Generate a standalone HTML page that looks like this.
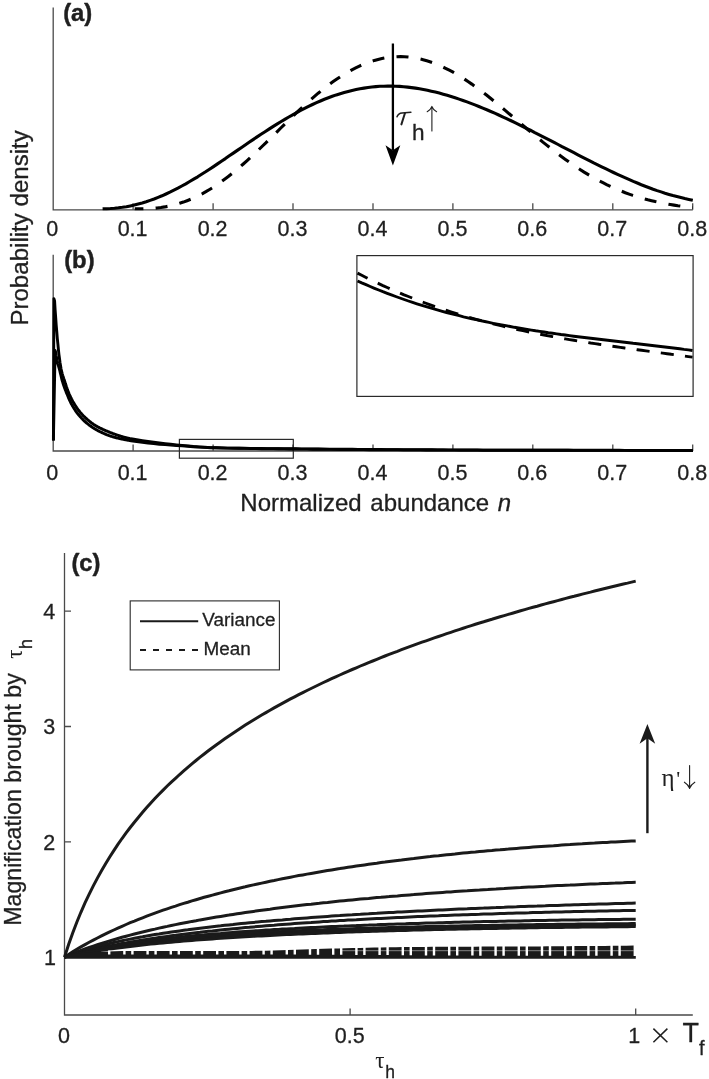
<!DOCTYPE html>
<html><head><meta charset="utf-8"><title>Figure</title>
<style>
html,body{margin:0;padding:0;background:#fff;}
body{width:709px;height:1079px;overflow:hidden;font-family:"Liberation Sans",sans-serif;}
svg{display:block;will-change:transform;}
</style></head>
<body>
<svg width="709" height="1079" viewBox="0 0 709 1079">
<rect x="0" y="0" width="709" height="1079" fill="#ffffff"/>
<g fill="none" stroke="#4a4a4a" stroke-width="1.3">
<path d="M53.2,7.6 V209.8 H692.8"/>
<path d="M133.1,209.8 v-6.5 M213.1,209.8 v-6.5 M293.0,209.8 v-6.5 M373.0,209.8 v-6.5 M452.9,209.8 v-6.5 M532.8,209.8 v-6.5 M612.8,209.8 v-6.5 M692.7,209.8 v-6.5 "/>
</g>
<path d="M102.6,208.8 L106.6,208.7 L110.5,208.5 L114.5,208.2 L118.4,207.8 L122.4,207.3 L126.4,206.7 L130.3,205.9 L134.3,205.1 L138.2,204.1 L142.2,203.0 L146.2,201.8 L150.1,200.4 L154.1,199.0 L158.1,197.4 L162.0,195.8 L166.0,194.0 L169.9,192.2 L173.9,190.2 L177.9,188.2 L181.8,186.0 L185.8,183.8 L189.7,181.5 L193.7,179.2 L197.7,176.8 L201.6,174.3 L205.6,171.8 L209.5,169.2 L213.5,166.6 L217.5,163.9 L221.4,161.2 L225.4,158.6 L229.3,155.8 L233.3,153.1 L237.3,150.4 L241.2,147.7 L245.2,145.0 L249.1,142.3 L253.1,139.6 L257.1,136.9 L261.0,134.3 L265.0,131.7 L269.0,129.1 L272.9,126.6 L276.9,124.1 L280.8,121.7 L284.8,119.3 L288.8,117.0 L292.7,114.8 L296.7,112.6 L300.6,110.5 L304.6,108.4 L308.6,106.4 L312.5,104.5 L316.5,102.7 L320.4,101.0 L324.4,99.3 L328.4,97.8 L332.3,96.3 L336.3,94.9 L340.2,93.7 L344.2,92.5 L348.2,91.4 L352.1,90.4 L356.1,89.5 L360.0,88.7 L364.0,88.1 L368.0,87.5 L371.9,87.0 L375.9,86.6 L379.9,86.3 L383.8,86.2 L387.8,86.1 L391.7,86.1 L395.7,86.2 L399.7,86.4 L403.6,86.7 L407.6,87.1 L411.5,87.6 L415.5,88.1 L419.5,88.8 L423.4,89.5 L427.4,90.3 L431.3,91.2 L435.3,92.1 L439.3,93.1 L443.2,94.2 L447.2,95.3 L451.1,96.5 L455.1,97.8 L459.1,99.1 L463.0,100.5 L467.0,101.9 L470.9,103.4 L474.9,104.9 L478.9,106.5 L482.8,108.1 L486.8,109.8 L490.8,111.5 L494.7,113.2 L498.7,115.0 L502.6,116.8 L506.6,118.7 L510.6,120.5 L514.5,122.4 L518.5,124.3 L522.4,126.3 L526.4,128.3 L530.4,130.2 L534.3,132.3 L538.3,134.3 L542.2,136.3 L546.2,138.3 L550.2,140.4 L554.1,142.4 L558.1,144.5 L562.0,146.6 L566.0,148.6 L570.0,150.7 L573.9,152.7 L577.9,154.8 L581.8,156.8 L585.8,158.8 L589.8,160.9 L593.7,162.9 L597.7,164.8 L601.7,166.8 L605.6,168.7 L609.6,170.6 L613.5,172.5 L617.5,174.4 L621.5,176.2 L625.4,177.9 L629.4,179.7 L633.3,181.4 L637.3,183.0 L641.3,184.7 L645.2,186.2 L649.2,187.7 L653.1,189.2 L657.1,190.6 L661.1,191.9 L665.0,193.2 L669.0,194.4 L672.9,195.6 L676.9,196.6 L680.9,197.6 L684.8,198.6 L688.8,199.4 L692.8,200.2" fill="none" stroke="#000" stroke-width="3.1" stroke-linejoin="round"/>
<path d="M134.7,208.7 L138.4,208.8 L142.2,208.8 L145.9,208.7 L149.7,208.6 L153.4,208.3 L157.2,208.0 L160.9,207.5 L164.7,206.9 L168.4,206.2 L172.2,205.4 L175.9,204.4 L179.6,203.3 L183.4,202.1 L187.1,200.7 L190.9,199.2 L194.6,197.5 L198.4,195.7 L202.1,193.8 L205.9,191.7 L209.6,189.5 L213.4,187.2 L217.1,184.7 L220.8,182.1 L224.6,179.3 L228.3,176.5 L232.1,173.5 L235.8,170.5 L239.6,167.3 L243.3,164.0 L247.1,160.6 L250.8,157.2 L254.5,153.7 L258.3,150.1 L262.0,146.5 L265.8,142.9 L269.5,139.2 L273.3,135.5 L277.0,131.8 L280.8,128.0 L284.5,124.3 L288.3,120.7 L292.0,117.0 L295.7,113.4 L299.5,109.9 L303.2,106.4 L307.0,103.0 L310.7,99.7 L314.5,96.4 L318.2,93.2 L322.0,90.2 L325.7,87.2 L329.5,84.3 L333.2,81.6 L336.9,79.0 L340.7,76.5 L344.4,74.1 L348.2,71.9 L351.9,69.8 L355.7,67.9 L359.4,66.1 L363.2,64.4 L366.9,62.9 L370.7,61.6 L374.4,60.4 L378.1,59.4 L381.9,58.5 L385.6,57.8 L389.4,57.3 L393.1,56.9 L396.9,56.7 L400.6,56.6 L404.4,56.7 L408.1,57.0 L411.9,57.4 L415.6,58.0 L419.3,58.8 L423.1,59.7 L426.8,60.8 L430.6,62.0 L434.3,63.3 L438.1,64.8 L441.8,66.5 L445.6,68.3 L449.3,70.2 L453.1,72.2 L456.8,74.4 L460.5,76.6 L464.3,79.0 L468.0,81.5 L471.8,84.1 L475.5,86.8 L479.3,89.5 L483.0,92.4 L486.8,95.3 L490.5,98.3 L494.2,101.3 L498.0,104.4 L501.7,107.5 L505.5,110.6 L509.2,113.8 L513.0,116.9 L516.7,120.1 L520.5,123.3 L524.2,126.5 L528.0,129.7 L531.7,132.8 L535.4,135.9 L539.2,139.0 L542.9,142.1 L546.7,145.1 L550.4,148.1 L554.2,151.0 L557.9,153.9 L561.7,156.7 L565.4,159.4 L569.2,162.1 L572.9,164.7 L576.6,167.2 L580.4,169.7 L584.1,172.1 L587.9,174.4 L591.6,176.6 L595.4,178.7 L599.1,180.8 L602.9,182.7 L606.6,184.6 L610.4,186.4 L614.1,188.1 L617.8,189.7 L621.6,191.2 L625.3,192.7 L629.1,194.1 L632.8,195.4 L636.6,196.6 L640.3,197.7 L644.1,198.8 L647.8,199.8 L651.6,200.7 L655.3,201.6 L659.0,202.4 L662.8,203.1 L666.5,203.8 L670.3,204.5 L674.0,205.1 L677.8,205.7 L681.5,206.2 L685.3,206.7 L689.0,207.3 L692.8,207.8" fill="none" stroke="#000" stroke-width="3.1" stroke-dasharray="12.0 12.25" stroke-dashoffset="3.3"/>
<path d="M392.9,43.5 V150" fill="none" stroke="#000" stroke-width="2.3"/>
<path d="M392.9,165.5 L385.5,145.3 L392.9,150.3 L400.3,145.3 Z" fill="#000"/>
<g fill="none" stroke="#4a4a4a" stroke-width="1.3">
<path d="M53.2,254.7 V451.0 H692.8"/>
<path d="M133.1,451.0 v-6.5 M213.1,451.0 v-6.5 M293.0,451.0 v-6.5 M373.0,451.0 v-6.5 M452.9,451.0 v-6.5 M532.8,451.0 v-6.5 M612.8,451.0 v-6.5 M692.7,451.0 v-6.5 "/>
</g>
<g fill="none" stroke="#2a2a2a" stroke-width="1.2">
<rect x="356.9" y="255.6" width="336.2" height="140.8"/>
<rect x="179.4" y="439.4" width="113.9" height="18.8"/>
</g>
<path d="M53.4,440.5 L53.9,298.6 L54.6,301.0 L55.1,309.5 L55.7,317.5 L56.2,325.0 L56.8,331.9 L57.3,338.3 L57.9,344.2 L58.4,349.5 L58.9,354.1 L59.5,358.5 L60.0,362.5 L60.6,366.1 L61.1,369.1 L61.7,371.5 L62.2,373.6 L62.7,375.4 L63.3,377.1 L63.8,378.7 L64.4,380.3 L64.9,381.9 L65.4,383.6 L66.0,385.3 L66.5,387.0 L67.1,388.6 L67.6,390.1 L68.2,391.5 L68.7,392.8 L69.2,394.1 L69.8,395.3 L70.3,396.5 L70.9,397.6 L71.4,398.7 L72.0,399.8 L72.5,400.8 L73.0,401.8 L73.6,402.7 L74.1,403.6 L74.7,404.5 L75.2,405.3 L75.8,406.2 L76.3,407.0 L76.8,407.8 L77.4,408.6 L77.9,409.3 L78.5,410.1 L79.0,410.8 L79.6,411.5 L80.1,412.2 L80.6,412.8 L81.2,413.4 L81.7,414.1 L82.3,414.6 L82.8,415.2 L83.3,415.8 L83.9,416.3 L84.4,416.8 L85.0,417.4 L85.5,417.9 L86.1,418.4 L86.6,418.9 L87.1,419.4 L87.7,419.8 L88.2,420.3 L88.8,420.7 L89.3,421.2 L89.9,421.6 L90.4,422.0 L90.9,422.5 L91.5,422.9 L92.0,423.3 L92.6,423.6 L93.1,424.0 L93.7,424.4 L94.2,424.7 L94.7,425.1 L95.3,425.4 L95.8,425.7 L96.4,426.1 L96.9,426.4 L97.5,426.7 L98.0,427.0 L98.5,427.3 L99.1,427.5 L99.6,427.8 L100.2,428.1 L100.7,428.3 L101.3,428.6 L101.8,428.9 L102.3,429.1 L102.9,429.4 L103.4,429.6 L104.0,429.8 L104.5,430.1 L105.0,430.3 L105.6,430.6 L106.1,430.8 L106.7,431.0 L107.2,431.2 L107.8,431.5 L108.3,431.7 L108.8,431.9 L109.4,432.2 L109.9,432.4 L110.5,432.6 L111.0,432.8 L111.6,433.0 L112.1,433.2 L112.6,433.4 L113.2,433.6 L113.7,433.8 L114.3,434.0 L114.8,434.2 L115.4,434.4 L115.9,434.6 L116.4,434.8 L117.0,435.0 L117.5,435.1 L118.1,435.3 L118.6,435.5 L119.2,435.7 L119.7,435.8 L120.2,436.0 L120.8,436.2 L121.3,436.3 L121.9,436.5 L122.4,436.7 L122.9,436.8 L123.5,437.0 L124.0,437.1 L124.6,437.3 L125.1,437.4 L125.7,437.6 L126.2,437.7 L126.7,437.9 L127.3,438.0 L127.8,438.1 L128.4,438.2 L128.9,438.4 L129.5,438.5 L130.0,438.6 L131.0,438.8 L136.7,439.8 L142.4,440.7 L148.0,441.5 L153.7,442.2 L159.4,443.0 L165.1,443.7 L170.7,444.3 L176.4,444.9 L182.1,445.4 L187.8,445.9 L193.4,446.5 L199.1,446.9 L204.8,447.3 L210.5,447.6 L216.2,447.8 L221.8,448.0 L227.5,448.1 L233.2,448.2 L238.9,448.3 L244.5,448.4 L250.2,448.5 L255.9,448.6 L261.6,448.7 L267.2,448.7 L272.9,448.8 L278.6,448.8 L284.3,448.9 L289.9,449.0 L295.6,449.0 L301.3,449.1 L307.0,449.1 L312.7,449.2 L318.3,449.3 L324.0,449.3 L329.7,449.4 L335.4,449.4 L341.0,449.5 L346.7,449.5 L352.4,449.6 L358.1,449.6 L363.7,449.6 L369.4,449.7 L375.1,449.7 L380.8,449.7 L386.5,449.8 L392.1,449.8 L397.8,449.8 L403.5,449.9 L409.2,449.9 L414.8,449.9 L420.5,449.9 L426.2,450.0 L431.9,450.0 L437.5,450.0 L443.2,450.0 L448.9,450.1 L454.6,450.1 L460.3,450.1 L465.9,450.1 L471.6,450.1 L477.3,450.1 L483.0,450.2 L488.6,450.2 L494.3,450.2 L500.0,450.2 L505.7,450.2 L511.3,450.2 L517.0,450.2 L522.7,450.3 L528.4,450.3 L534.1,450.3 L539.7,450.3 L545.4,450.3 L551.1,450.3 L556.8,450.3 L562.4,450.3 L568.1,450.3 L573.8,450.4 L579.5,450.4 L585.1,450.4 L590.8,450.4 L596.5,450.4 L602.2,450.4 L607.8,450.4 L613.5,450.4 L619.2,450.4 L624.9,450.4 L630.6,450.5 L636.2,450.5 L641.9,450.5 L647.6,450.5 L653.3,450.5 L658.9,450.5 L664.6,450.5 L670.3,450.5 L676.0,450.5 L681.6,450.5 L687.3,450.5 L693.0,450.5" fill="none" stroke="#000" stroke-width="2.9" stroke-linejoin="round"/>
<path d="M53.4,440.5 L55.1,350.4 L55.6,352.0 L56.1,355.3 L56.7,358.4 L57.2,361.0 L57.7,363.3 L58.3,365.3 L58.8,367.1 L59.3,369.0 L59.9,371.1 L60.4,373.4 L61.0,375.6 L61.5,377.9 L62.0,380.0 L62.6,381.8 L63.1,383.5 L63.6,385.2 L64.2,386.7 L64.7,388.2 L65.2,389.6 L65.8,391.0 L66.3,392.4 L66.8,393.7 L67.4,395.0 L67.9,396.3 L68.4,397.6 L69.0,398.9 L69.5,400.1 L70.1,401.2 L70.6,402.3 L71.1,403.4 L71.7,404.4 L72.2,405.3 L72.7,406.3 L73.3,407.2 L73.8,408.1 L74.3,408.9 L74.9,409.7 L75.4,410.6 L75.9,411.3 L76.5,412.1 L77.0,412.8 L77.5,413.5 L78.1,414.2 L78.6,414.9 L79.2,415.5 L79.7,416.1 L80.2,416.7 L80.8,417.3 L81.3,417.9 L81.8,418.5 L82.4,419.0 L82.9,419.6 L83.4,420.1 L84.0,420.6 L84.5,421.1 L85.0,421.6 L85.6,422.1 L86.1,422.6 L86.6,423.0 L87.2,423.5 L87.7,423.9 L88.3,424.3 L88.8,424.8 L89.3,425.2 L89.9,425.6 L90.4,425.9 L90.9,426.3 L91.5,426.7 L92.0,427.1 L92.5,427.4 L93.1,427.8 L93.6,428.1 L94.1,428.5 L94.7,428.8 L95.2,429.1 L95.7,429.4 L96.3,429.7 L96.8,430.0 L97.3,430.3 L97.9,430.6 L98.4,430.9 L99.0,431.2 L99.5,431.5 L100.0,431.7 L100.6,432.0 L101.1,432.2 L101.6,432.5 L102.2,432.7 L102.7,433.0 L103.2,433.2 L103.8,433.5 L104.3,433.7 L104.8,433.9 L105.4,434.2 L105.9,434.4 L106.4,434.6 L107.0,434.8 L107.5,435.0 L108.1,435.2 L108.6,435.4 L109.1,435.6 L109.7,435.8 L110.2,436.0 L110.7,436.2 L111.3,436.3 L111.8,436.5 L112.3,436.7 L112.9,436.8 L113.4,437.0 L113.9,437.1 L114.5,437.3 L115.0,437.4 L115.5,437.6 L116.1,437.7 L116.6,437.8 L117.2,438.0 L117.7,438.1 L118.2,438.2 L118.8,438.4 L119.3,438.5 L119.8,438.6 L120.4,438.7 L120.9,438.8 L121.4,439.0 L122.0,439.1 L122.5,439.2 L123.0,439.3 L123.6,439.4 L124.1,439.5 L124.6,439.6 L125.2,439.7 L125.7,439.8 L126.3,439.9 L126.8,440.0 L127.3,440.1 L127.9,440.2 L128.4,440.3 L128.9,440.4 L129.5,440.5 L130.0,440.6 L131.0,440.8 L136.7,441.6 L142.4,442.4 L148.0,443.0 L153.7,443.6 L159.4,444.2 L165.1,444.6 L170.7,445.1 L176.4,445.5 L182.1,445.9 L187.8,446.3 L193.4,446.7 L199.1,447.1 L204.8,447.4 L210.5,447.7 L216.2,447.8 L221.8,447.9 L227.5,448.1 L233.2,448.1 L238.9,448.2 L244.5,448.3 L250.2,448.4 L255.9,448.4 L261.6,448.5 L267.2,448.6 L272.9,448.6 L278.6,448.7 L284.3,448.7 L289.9,448.8 L295.6,448.8 L301.3,448.9 L307.0,448.9 L312.7,449.0 L318.3,449.0 L324.0,449.1 L329.7,449.1 L335.4,449.2 L341.0,449.2 L346.7,449.3 L352.4,449.3 L358.1,449.4 L363.7,449.4 L369.4,449.5 L375.1,449.5 L380.8,449.5 L386.5,449.6 L392.1,449.6 L397.8,449.6 L403.5,449.7 L409.2,449.7 L414.8,449.7 L420.5,449.8 L426.2,449.8 L431.9,449.8 L437.5,449.9 L443.2,449.9 L448.9,449.9 L454.6,449.9 L460.3,450.0 L465.9,450.0 L471.6,450.0 L477.3,450.0 L483.0,450.1 L488.6,450.1 L494.3,450.1 L500.0,450.1 L505.7,450.1 L511.3,450.1 L517.0,450.1 L522.7,450.2 L528.4,450.2 L534.1,450.2 L539.7,450.2 L545.4,450.2 L551.1,450.2 L556.8,450.2 L562.4,450.2 L568.1,450.3 L573.8,450.3 L579.5,450.3 L585.1,450.3 L590.8,450.3 L596.5,450.3 L602.2,450.3 L607.8,450.3 L613.5,450.3 L619.2,450.3 L624.9,450.4 L630.6,450.4 L636.2,450.4 L641.9,450.4 L647.6,450.4 L653.3,450.4 L658.9,450.4 L664.6,450.4 L670.3,450.4 L676.0,450.4 L681.6,450.4 L687.3,450.4 L693.0,450.4" fill="none" stroke="#000" stroke-width="2.9" stroke-linejoin="round"/>
<path d="M357.5,281.0 L361.7,282.9 L366.0,284.7 L370.2,286.5 L374.5,288.3 L378.7,290.0 L382.9,291.7 L387.2,293.3 L391.4,294.9 L395.7,296.5 L399.9,298.0 L404.1,299.5 L408.4,301.0 L412.6,302.4 L416.9,303.8 L421.1,305.1 L425.3,306.4 L429.6,307.7 L433.8,308.9 L438.1,310.1 L442.3,311.3 L446.6,312.5 L450.8,313.6 L455.0,314.7 L459.3,315.7 L463.5,316.8 L467.8,317.8 L472.0,318.8 L476.2,319.7 L480.5,320.6 L484.7,321.5 L489.0,322.4 L493.2,323.3 L497.4,324.1 L501.7,324.9 L505.9,325.7 L510.2,326.5 L514.4,327.3 L518.6,328.0 L522.9,328.7 L527.1,329.4 L531.4,330.1 L535.6,330.8 L539.8,331.4 L544.1,332.0 L548.3,332.7 L552.6,333.3 L556.8,333.9 L561.0,334.5 L565.3,335.0 L569.5,335.6 L573.8,336.2 L578.0,336.7 L582.2,337.2 L586.5,337.8 L590.7,338.3 L595.0,338.8 L599.2,339.3 L603.4,339.8 L607.7,340.3 L611.9,340.8 L616.2,341.3 L620.4,341.8 L624.7,342.3 L628.9,342.8 L633.1,343.3 L637.4,343.7 L641.6,344.2 L645.9,344.7 L650.1,345.2 L654.3,345.7 L658.6,346.2 L662.8,346.7 L667.1,347.3 L671.3,347.8 L675.5,348.3 L679.8,348.8 L684.0,349.4 L688.3,349.9 L692.5,350.5" fill="none" stroke="#000" stroke-width="2.9"/>
<path d="M357.5,273.1 L361.7,275.3 L366.0,277.5 L370.2,279.6 L374.5,281.6 L378.7,283.6 L382.9,285.6 L387.2,287.5 L391.4,289.4 L395.7,291.2 L399.9,293.0 L404.1,294.8 L408.4,296.5 L412.6,298.2 L416.9,299.9 L421.1,301.5 L425.3,303.0 L429.6,304.6 L433.8,306.1 L438.1,307.6 L442.3,309.0 L446.6,310.4 L450.8,311.8 L455.0,313.1 L459.3,314.4 L463.5,315.7 L467.8,316.9 L472.0,318.2 L476.2,319.3 L480.5,320.5 L484.7,321.6 L489.0,322.8 L493.2,323.8 L497.4,324.9 L501.7,325.9 L505.9,326.9 L510.2,327.9 L514.4,328.9 L518.6,329.8 L522.9,330.7 L527.1,331.6 L531.4,332.5 L535.6,333.4 L539.8,334.2 L544.1,335.0 L548.3,335.8 L552.6,336.6 L556.8,337.4 L561.0,338.1 L565.3,338.9 L569.5,339.6 L573.8,340.3 L578.0,341.0 L582.2,341.7 L586.5,342.3 L590.7,343.0 L595.0,343.6 L599.2,344.3 L603.4,344.9 L607.7,345.5 L611.9,346.2 L616.2,346.8 L620.4,347.4 L624.7,348.0 L628.9,348.5 L633.1,349.1 L637.4,349.7 L641.6,350.3 L645.9,350.9 L650.1,351.4 L654.3,352.0 L658.6,352.6 L662.8,353.1 L667.1,353.7 L671.3,354.3 L675.5,354.8 L679.8,355.4 L684.0,356.0 L688.3,356.6 L692.5,357.1" fill="none" stroke="#000" stroke-width="2.9" stroke-dasharray="13.1 11.3" stroke-dashoffset="1.8"/>
<g fill="none" stroke="#4a4a4a" stroke-width="1.3">
<path d="M64.5,553 V1015.0 H692.8"/>
<path d="M64.5,957.2 h6.5 M64.5,841.9 h6.5 M64.5,726.5 h6.5 M64.5,611.2 h6.5 M350.1,1015.0 v-6.5 M635.7,1015.0 v-6.5 "/>
</g>
<path d="M64.5,957.2 L68.6,944.6 L72.7,933.0 L76.8,922.3 L80.9,912.3 L85.0,902.9 L89.2,894.2 L93.3,885.9 L97.4,878.1 L101.5,870.7 L105.6,863.7 L109.7,857.0 L113.8,850.6 L117.9,844.4 L122.0,838.5 L126.1,832.9 L130.2,827.5 L134.4,822.2 L138.5,817.2 L142.6,812.3 L146.7,807.6 L150.8,803.0 L154.9,798.6 L159.0,794.3 L163.1,790.1 L167.2,786.0 L171.3,782.1 L175.5,778.3 L179.6,774.5 L183.7,770.9 L187.8,767.3 L191.9,763.9 L196.0,760.5 L200.1,757.2 L204.2,754.0 L208.3,750.8 L212.4,747.7 L216.5,744.7 L220.7,741.7 L224.8,738.8 L228.9,736.0 L233.0,733.2 L237.1,730.5 L241.2,727.8 L245.3,725.1 L249.4,722.5 L253.5,720.0 L257.6,717.5 L261.7,715.0 L265.9,712.6 L270.0,710.3 L274.1,707.9 L278.2,705.6 L282.3,703.4 L286.4,701.1 L290.5,698.9 L294.6,696.8 L298.7,694.7 L302.8,692.6 L307.0,690.5 L311.1,688.5 L315.2,686.5 L319.3,684.5 L323.4,682.5 L327.5,680.6 L331.6,678.7 L335.7,676.8 L339.8,675.0 L343.9,673.1 L348.0,671.3 L352.2,669.5 L356.3,667.8 L360.4,666.0 L364.5,664.3 L368.6,662.6 L372.7,661.0 L376.8,659.3 L380.9,657.7 L385.0,656.0 L389.1,654.4 L393.2,652.8 L397.4,651.3 L401.5,649.7 L405.6,648.2 L409.7,646.7 L413.8,645.2 L417.9,643.7 L422.0,642.2 L426.1,640.8 L430.2,639.3 L434.3,637.9 L438.5,636.5 L442.6,635.1 L446.7,633.7 L450.8,632.3 L454.9,630.9 L459.0,629.6 L463.1,628.3 L467.2,626.9 L471.3,625.6 L475.4,624.3 L479.5,623.0 L483.7,621.8 L487.8,620.5 L491.9,619.3 L496.0,618.0 L500.1,616.8 L504.2,615.6 L508.3,614.4 L512.4,613.2 L516.5,612.0 L520.6,610.8 L524.7,609.6 L528.9,608.4 L533.0,607.3 L537.1,606.2 L541.2,605.0 L545.3,603.9 L549.4,602.8 L553.5,601.7 L557.6,600.6 L561.7,599.5 L565.8,598.4 L570.0,597.3 L574.1,596.3 L578.2,595.2 L582.3,594.1 L586.4,593.1 L590.5,592.1 L594.6,591.0 L598.7,590.0 L602.8,589.0 L606.9,588.0 L611.0,587.0 L615.2,586.0 L619.3,585.0 L623.4,584.0 L627.5,583.1 L631.6,582.1 L635.7,581.1" fill="none" stroke="#1a1a1a" stroke-width="3.0"/>
<path d="M64.5,957.0 L68.6,954.4 L72.7,951.8 L76.8,949.3 L80.9,946.9 L85.0,944.6 L89.2,942.3 L93.3,940.1 L97.4,938.0 L101.5,935.9 L105.6,933.9 L109.7,931.9 L113.8,930.0 L117.9,928.1 L122.0,926.3 L126.1,924.5 L130.2,922.7 L134.4,921.1 L138.5,919.4 L142.6,917.8 L146.7,916.2 L150.8,914.7 L154.9,913.1 L159.0,911.7 L163.1,910.2 L167.2,908.8 L171.3,907.4 L175.5,906.1 L179.6,904.7 L183.7,903.4 L187.8,902.2 L191.9,900.9 L196.0,899.7 L200.1,898.5 L204.2,897.3 L208.3,896.2 L212.4,895.1 L216.5,894.0 L220.7,892.9 L224.8,891.8 L228.9,890.8 L233.0,889.7 L237.1,888.7 L241.2,887.7 L245.3,886.8 L249.4,885.8 L253.5,884.9 L257.6,884.0 L261.7,883.1 L265.9,882.2 L270.0,881.3 L274.1,880.5 L278.2,879.6 L282.3,878.8 L286.4,878.0 L290.5,877.2 L294.6,876.4 L298.7,875.6 L302.8,874.9 L307.0,874.1 L311.1,873.4 L315.2,872.7 L319.3,872.0 L323.4,871.3 L327.5,870.6 L331.6,869.9 L335.7,869.2 L339.8,868.6 L343.9,867.9 L348.0,867.3 L352.2,866.7 L356.3,866.1 L360.4,865.5 L364.5,864.9 L368.6,864.3 L372.7,863.7 L376.8,863.2 L380.9,862.6 L385.0,862.1 L389.1,861.5 L393.2,861.0 L397.4,860.5 L401.5,860.0 L405.6,859.4 L409.7,858.9 L413.8,858.5 L417.9,858.0 L422.0,857.5 L426.1,857.0 L430.2,856.6 L434.3,856.1 L438.5,855.7 L442.6,855.2 L446.7,854.8 L450.8,854.4 L454.9,854.0 L459.0,853.5 L463.1,853.1 L467.2,852.7 L471.3,852.3 L475.4,852.0 L479.5,851.6 L483.7,851.2 L487.8,850.8 L491.9,850.5 L496.0,850.1 L500.1,849.8 L504.2,849.4 L508.3,849.1 L512.4,848.7 L516.5,848.4 L520.6,848.1 L524.7,847.8 L528.9,847.4 L533.0,847.1 L537.1,846.8 L541.2,846.5 L545.3,846.2 L549.4,845.9 L553.5,845.7 L557.6,845.4 L561.7,845.1 L565.8,844.8 L570.0,844.6 L574.1,844.3 L578.2,844.0 L582.3,843.8 L586.4,843.5 L590.5,843.3 L594.6,843.1 L598.7,842.8 L602.8,842.6 L606.9,842.4 L611.0,842.1 L615.2,841.9 L619.3,841.7 L623.4,841.5 L627.5,841.3 L631.6,841.1 L635.7,840.9" fill="none" stroke="#1a1a1a" stroke-width="3.0"/>
<path d="M64.5,957.0 L68.6,955.3 L72.7,953.6 L76.8,952.0 L80.9,950.5 L85.0,949.0 L89.2,947.5 L93.3,946.1 L97.4,944.7 L101.5,943.4 L105.6,942.1 L109.7,940.9 L113.8,939.7 L117.9,938.5 L122.0,937.3 L126.1,936.2 L130.2,935.1 L134.4,934.0 L138.5,933.0 L142.6,932.0 L146.7,931.0 L150.8,930.0 L154.9,929.1 L159.0,928.1 L163.1,927.2 L167.2,926.4 L171.3,925.5 L175.5,924.6 L179.6,923.8 L183.7,923.0 L187.8,922.2 L191.9,921.4 L196.0,920.7 L200.1,919.9 L204.2,919.2 L208.3,918.5 L212.4,917.8 L216.5,917.1 L220.7,916.4 L224.8,915.7 L228.9,915.1 L233.0,914.4 L237.1,913.8 L241.2,913.2 L245.3,912.6 L249.4,912.0 L253.5,911.4 L257.6,910.8 L261.7,910.3 L265.9,909.7 L270.0,909.2 L274.1,908.6 L278.2,908.1 L282.3,907.6 L286.4,907.1 L290.5,906.6 L294.6,906.1 L298.7,905.6 L302.8,905.1 L307.0,904.6 L311.1,904.2 L315.2,903.7 L319.3,903.3 L323.4,902.8 L327.5,902.4 L331.6,901.9 L335.7,901.5 L339.8,901.1 L343.9,900.7 L348.0,900.3 L352.2,899.9 L356.3,899.5 L360.4,899.1 L364.5,898.7 L368.6,898.4 L372.7,898.0 L376.8,897.6 L380.9,897.3 L385.0,896.9 L389.1,896.6 L393.2,896.2 L397.4,895.9 L401.5,895.5 L405.6,895.2 L409.7,894.9 L413.8,894.6 L417.9,894.2 L422.0,893.9 L426.1,893.6 L430.2,893.3 L434.3,893.0 L438.5,892.7 L442.6,892.4 L446.7,892.1 L450.8,891.9 L454.9,891.6 L459.0,891.3 L463.1,891.0 L467.2,890.8 L471.3,890.5 L475.4,890.2 L479.5,890.0 L483.7,889.7 L487.8,889.5 L491.9,889.2 L496.0,889.0 L500.1,888.7 L504.2,888.5 L508.3,888.2 L512.4,888.0 L516.5,887.8 L520.6,887.6 L524.7,887.3 L528.9,887.1 L533.0,886.9 L537.1,886.7 L541.2,886.5 L545.3,886.3 L549.4,886.0 L553.5,885.8 L557.6,885.6 L561.7,885.4 L565.8,885.2 L570.0,885.1 L574.1,884.9 L578.2,884.7 L582.3,884.5 L586.4,884.3 L590.5,884.1 L594.6,883.9 L598.7,883.8 L602.8,883.6 L606.9,883.4 L611.0,883.2 L615.2,883.1 L619.3,882.9 L623.4,882.8 L627.5,882.6 L631.6,882.4 L635.7,882.3" fill="none" stroke="#1a1a1a" stroke-width="3.0"/>
<path d="M64.5,957.0 L68.6,955.4 L72.7,954.0 L76.8,952.6 L80.9,951.3 L85.0,950.0 L89.2,948.8 L93.3,947.6 L97.4,946.5 L101.5,945.5 L105.6,944.5 L109.7,943.5 L113.8,942.5 L117.9,941.6 L122.0,940.7 L126.1,939.9 L130.2,939.1 L134.4,938.3 L138.5,937.5 L142.6,936.8 L146.7,936.0 L150.8,935.3 L154.9,934.6 L159.0,934.0 L163.1,933.3 L167.2,932.7 L171.3,932.1 L175.5,931.5 L179.6,930.9 L183.7,930.3 L187.8,929.8 L191.9,929.2 L196.0,928.7 L200.1,928.2 L204.2,927.7 L208.3,927.2 L212.4,926.7 L216.5,926.2 L220.7,925.8 L224.8,925.3 L228.9,924.9 L233.0,924.5 L237.1,924.0 L241.2,923.6 L245.3,923.2 L249.4,922.8 L253.5,922.4 L257.6,922.0 L261.7,921.6 L265.9,921.3 L270.0,920.9 L274.1,920.5 L278.2,920.2 L282.3,919.9 L286.4,919.5 L290.5,919.2 L294.6,918.8 L298.7,918.5 L302.8,918.2 L307.0,917.9 L311.1,917.6 L315.2,917.3 L319.3,917.0 L323.4,916.7 L327.5,916.4 L331.6,916.1 L335.7,915.8 L339.8,915.6 L343.9,915.3 L348.0,915.0 L352.2,914.8 L356.3,914.5 L360.4,914.3 L364.5,914.0 L368.6,913.8 L372.7,913.5 L376.8,913.3 L380.9,913.0 L385.0,912.8 L389.1,912.6 L393.2,912.4 L397.4,912.1 L401.5,911.9 L405.6,911.7 L409.7,911.5 L413.8,911.3 L417.9,911.1 L422.0,910.9 L426.1,910.7 L430.2,910.5 L434.3,910.3 L438.5,910.1 L442.6,909.9 L446.7,909.7 L450.8,909.5 L454.9,909.3 L459.0,909.1 L463.1,908.9 L467.2,908.8 L471.3,908.6 L475.4,908.4 L479.5,908.2 L483.7,908.1 L487.8,907.9 L491.9,907.7 L496.0,907.6 L500.1,907.4 L504.2,907.3 L508.3,907.1 L512.4,906.9 L516.5,906.8 L520.6,906.6 L524.7,906.5 L528.9,906.3 L533.0,906.2 L537.1,906.1 L541.2,905.9 L545.3,905.8 L549.4,905.6 L553.5,905.5 L557.6,905.4 L561.7,905.2 L565.8,905.1 L570.0,905.0 L574.1,904.8 L578.2,904.7 L582.3,904.6 L586.4,904.5 L590.5,904.3 L594.6,904.2 L598.7,904.1 L602.8,904.0 L606.9,903.9 L611.0,903.7 L615.2,903.6 L619.3,903.5 L623.4,903.4 L627.5,903.3 L631.6,903.2 L635.7,903.1" fill="none" stroke="#1a1a1a" stroke-width="3.0"/>
<path d="M64.5,957.0 L68.6,955.8 L72.7,954.7 L76.8,953.6 L80.9,952.5 L85.0,951.5 L89.2,950.5 L93.3,949.5 L97.4,948.6 L101.5,947.7 L105.6,946.8 L109.7,946.0 L113.8,945.2 L117.9,944.4 L122.0,943.6 L126.1,942.9 L130.2,942.1 L134.4,941.4 L138.5,940.7 L142.6,940.1 L146.7,939.4 L150.8,938.8 L154.9,938.2 L159.0,937.6 L163.1,937.0 L167.2,936.4 L171.3,935.8 L175.5,935.3 L179.6,934.7 L183.7,934.2 L187.8,933.7 L191.9,933.2 L196.0,932.7 L200.1,932.3 L204.2,931.8 L208.3,931.3 L212.4,930.9 L216.5,930.4 L220.7,930.0 L224.8,929.6 L228.9,929.2 L233.0,928.8 L237.1,928.4 L241.2,928.0 L245.3,927.6 L249.4,927.3 L253.5,926.9 L257.6,926.5 L261.7,926.2 L265.9,925.8 L270.0,925.5 L274.1,925.2 L278.2,924.8 L282.3,924.5 L286.4,924.2 L290.5,923.9 L294.6,923.6 L298.7,923.3 L302.8,923.0 L307.0,922.7 L311.1,922.5 L315.2,922.2 L319.3,921.9 L323.4,921.6 L327.5,921.4 L331.6,921.1 L335.7,920.9 L339.8,920.6 L343.9,920.4 L348.0,920.1 L352.2,919.9 L356.3,919.7 L360.4,919.4 L364.5,919.2 L368.6,919.0 L372.7,918.8 L376.8,918.6 L380.9,918.4 L385.0,918.2 L389.1,918.0 L393.2,917.8 L397.4,917.6 L401.5,917.4 L405.6,917.2 L409.7,917.0 L413.8,916.8 L417.9,916.6 L422.0,916.5 L426.1,916.3 L430.2,916.1 L434.3,915.9 L438.5,915.8 L442.6,915.6 L446.7,915.5 L450.8,915.3 L454.9,915.1 L459.0,915.0 L463.1,914.8 L467.2,914.7 L471.3,914.5 L475.4,914.4 L479.5,914.3 L483.7,914.1 L487.8,914.0 L491.9,913.9 L496.0,913.7 L500.1,913.6 L504.2,913.5 L508.3,913.3 L512.4,913.2 L516.5,913.1 L520.6,913.0 L524.7,912.9 L528.9,912.8 L533.0,912.6 L537.1,912.5 L541.2,912.4 L545.3,912.3 L549.4,912.2 L553.5,912.1 L557.6,912.0 L561.7,911.9 L565.8,911.8 L570.0,911.7 L574.1,911.6 L578.2,911.5 L582.3,911.4 L586.4,911.3 L590.5,911.2 L594.6,911.2 L598.7,911.1 L602.8,911.0 L606.9,910.9 L611.0,910.8 L615.2,910.8 L619.3,910.7 L623.4,910.6 L627.5,910.5 L631.6,910.4 L635.7,910.4" fill="none" stroke="#1a1a1a" stroke-width="3.0"/>
<path d="M64.5,957.0 L68.6,955.8 L72.7,954.7 L76.8,953.6 L80.9,952.6 L85.0,951.6 L89.2,950.7 L93.3,949.8 L97.4,949.0 L101.5,948.2 L105.6,947.4 L109.7,946.6 L113.8,945.9 L117.9,945.2 L122.0,944.5 L126.1,943.9 L130.2,943.3 L134.4,942.7 L138.5,942.1 L142.6,941.5 L146.7,941.0 L150.8,940.4 L154.9,939.9 L159.0,939.4 L163.1,938.9 L167.2,938.5 L171.3,938.0 L175.5,937.6 L179.6,937.1 L183.7,936.7 L187.8,936.3 L191.9,935.9 L196.0,935.5 L200.1,935.1 L204.2,934.8 L208.3,934.4 L212.4,934.0 L216.5,933.7 L220.7,933.4 L224.8,933.0 L228.9,932.7 L233.0,932.4 L237.1,932.1 L241.2,931.8 L245.3,931.5 L249.4,931.2 L253.5,930.9 L257.6,930.7 L261.7,930.4 L265.9,930.1 L270.0,929.9 L274.1,929.6 L278.2,929.4 L282.3,929.1 L286.4,928.9 L290.5,928.7 L294.6,928.5 L298.7,928.2 L302.8,928.0 L307.0,927.8 L311.1,927.6 L315.2,927.4 L319.3,927.2 L323.4,927.0 L327.5,926.8 L331.6,926.6 L335.7,926.4 L339.8,926.2 L343.9,926.1 L348.0,925.9 L352.2,925.7 L356.3,925.6 L360.4,925.4 L364.5,925.2 L368.6,925.1 L372.7,924.9 L376.8,924.8 L380.9,924.6 L385.0,924.5 L389.1,924.3 L393.2,924.2 L397.4,924.0 L401.5,923.9 L405.6,923.8 L409.7,923.6 L413.8,923.5 L417.9,923.4 L422.0,923.2 L426.1,923.1 L430.2,923.0 L434.3,922.9 L438.5,922.8 L442.6,922.7 L446.7,922.5 L450.8,922.4 L454.9,922.3 L459.0,922.2 L463.1,922.1 L467.2,922.0 L471.3,921.9 L475.4,921.8 L479.5,921.7 L483.7,921.6 L487.8,921.5 L491.9,921.4 L496.0,921.4 L500.1,921.3 L504.2,921.2 L508.3,921.1 L512.4,921.0 L516.5,920.9 L520.6,920.9 L524.7,920.8 L528.9,920.7 L533.0,920.6 L537.1,920.5 L541.2,920.5 L545.3,920.4 L549.4,920.3 L553.5,920.3 L557.6,920.2 L561.7,920.1 L565.8,920.1 L570.0,920.0 L574.1,919.9 L578.2,919.9 L582.3,919.8 L586.4,919.8 L590.5,919.7 L594.6,919.7 L598.7,919.6 L602.8,919.6 L606.9,919.5 L611.0,919.4 L615.2,919.4 L619.3,919.4 L623.4,919.3 L627.5,919.3 L631.6,919.2 L635.7,919.2" fill="none" stroke="#1a1a1a" stroke-width="3.0"/>
<path d="M64.5,957.0 L68.6,955.8 L72.7,954.7 L76.8,953.6 L80.9,952.6 L85.0,951.7 L89.2,950.8 L93.3,949.9 L97.4,949.1 L101.5,948.4 L105.6,947.7 L109.7,947.0 L113.8,946.3 L117.9,945.6 L122.0,945.0 L126.1,944.4 L130.2,943.9 L134.4,943.3 L138.5,942.8 L142.6,942.3 L146.7,941.8 L150.8,941.3 L154.9,940.9 L159.0,940.4 L163.1,940.0 L167.2,939.6 L171.3,939.2 L175.5,938.8 L179.6,938.4 L183.7,938.0 L187.8,937.7 L191.9,937.3 L196.0,937.0 L200.1,936.7 L204.2,936.3 L208.3,936.0 L212.4,935.7 L216.5,935.4 L220.7,935.1 L224.8,934.9 L228.9,934.6 L233.0,934.3 L237.1,934.1 L241.2,933.8 L245.3,933.6 L249.4,933.3 L253.5,933.1 L257.6,932.9 L261.7,932.6 L265.9,932.4 L270.0,932.2 L274.1,932.0 L278.2,931.8 L282.3,931.6 L286.4,931.4 L290.5,931.2 L294.6,931.0 L298.7,930.8 L302.8,930.6 L307.0,930.4 L311.1,930.3 L315.2,930.1 L319.3,929.9 L323.4,929.8 L327.5,929.6 L331.6,929.5 L335.7,929.3 L339.8,929.2 L343.9,929.0 L348.0,928.9 L352.2,928.7 L356.3,928.6 L360.4,928.5 L364.5,928.3 L368.6,928.2 L372.7,928.1 L376.8,927.9 L380.9,927.8 L385.0,927.7 L389.1,927.6 L393.2,927.5 L397.4,927.4 L401.5,927.2 L405.6,927.1 L409.7,927.0 L413.8,926.9 L417.9,926.8 L422.0,926.7 L426.1,926.6 L430.2,926.5 L434.3,926.4 L438.5,926.3 L442.6,926.3 L446.7,926.2 L450.8,926.1 L454.9,926.0 L459.0,925.9 L463.1,925.8 L467.2,925.7 L471.3,925.7 L475.4,925.6 L479.5,925.5 L483.7,925.4 L487.8,925.4 L491.9,925.3 L496.0,925.2 L500.1,925.2 L504.2,925.1 L508.3,925.0 L512.4,925.0 L516.5,924.9 L520.6,924.8 L524.7,924.8 L528.9,924.7 L533.0,924.7 L537.1,924.6 L541.2,924.6 L545.3,924.5 L549.4,924.4 L553.5,924.4 L557.6,924.3 L561.7,924.3 L565.8,924.3 L570.0,924.2 L574.1,924.2 L578.2,924.1 L582.3,924.1 L586.4,924.0 L590.5,924.0 L594.6,923.9 L598.7,923.9 L602.8,923.9 L606.9,923.8 L611.0,923.8 L615.2,923.8 L619.3,923.7 L623.4,923.7 L627.5,923.7 L631.6,923.6 L635.7,923.6" fill="none" stroke="#1a1a1a" stroke-width="3.0"/>
<path d="M64.5,957.0 L68.6,956.0 L72.7,955.0 L76.8,954.1 L80.9,953.3 L85.0,952.4 L89.2,951.7 L93.3,950.9 L97.4,950.2 L101.5,949.5 L105.6,948.8 L109.7,948.2 L113.8,947.6 L117.9,947.0 L122.0,946.4 L126.1,945.8 L130.2,945.3 L134.4,944.8 L138.5,944.3 L142.6,943.8 L146.7,943.3 L150.8,942.9 L154.9,942.4 L159.0,942.0 L163.1,941.6 L167.2,941.2 L171.3,940.8 L175.5,940.4 L179.6,940.1 L183.7,939.7 L187.8,939.3 L191.9,939.0 L196.0,938.7 L200.1,938.3 L204.2,938.0 L208.3,937.7 L212.4,937.4 L216.5,937.1 L220.7,936.8 L224.8,936.6 L228.9,936.3 L233.0,936.0 L237.1,935.8 L241.2,935.5 L245.3,935.3 L249.4,935.0 L253.5,934.8 L257.6,934.5 L261.7,934.3 L265.9,934.1 L270.0,933.9 L274.1,933.7 L278.2,933.5 L282.3,933.3 L286.4,933.1 L290.5,932.9 L294.6,932.7 L298.7,932.5 L302.8,932.3 L307.0,932.1 L311.1,931.9 L315.2,931.8 L319.3,931.6 L323.4,931.4 L327.5,931.3 L331.6,931.1 L335.7,931.0 L339.8,930.8 L343.9,930.7 L348.0,930.5 L352.2,930.4 L356.3,930.2 L360.4,930.1 L364.5,930.0 L368.6,929.8 L372.7,929.7 L376.8,929.6 L380.9,929.4 L385.0,929.3 L389.1,929.2 L393.2,929.1 L397.4,929.0 L401.5,928.9 L405.6,928.7 L409.7,928.6 L413.8,928.5 L417.9,928.4 L422.0,928.3 L426.1,928.2 L430.2,928.1 L434.3,928.0 L438.5,927.9 L442.6,927.8 L446.7,927.7 L450.8,927.7 L454.9,927.6 L459.0,927.5 L463.1,927.4 L467.2,927.3 L471.3,927.2 L475.4,927.2 L479.5,927.1 L483.7,927.0 L487.8,926.9 L491.9,926.9 L496.0,926.8 L500.1,926.7 L504.2,926.7 L508.3,926.6 L512.4,926.5 L516.5,926.5 L520.6,926.4 L524.7,926.3 L528.9,926.3 L533.0,926.2 L537.1,926.2 L541.2,926.1 L545.3,926.0 L549.4,926.0 L553.5,925.9 L557.6,925.9 L561.7,925.8 L565.8,925.8 L570.0,925.7 L574.1,925.7 L578.2,925.7 L582.3,925.6 L586.4,925.6 L590.5,925.5 L594.6,925.5 L598.7,925.4 L602.8,925.4 L606.9,925.4 L611.0,925.3 L615.2,925.3 L619.3,925.3 L623.4,925.2 L627.5,925.2 L631.6,925.2 L635.7,925.1" fill="none" stroke="#1a1a1a" stroke-width="3.0"/>
<path d="M64.5,957.0 L68.6,956.1 L72.7,955.3 L76.8,954.5 L80.9,953.7 L85.0,953.0 L89.2,952.2 L93.3,951.6 L97.4,950.9 L101.5,950.3 L105.6,949.7 L109.7,949.1 L113.8,948.5 L117.9,948.0 L122.0,947.4 L126.1,946.9 L130.2,946.4 L134.4,945.9 L138.5,945.5 L142.6,945.0 L146.7,944.6 L150.8,944.1 L154.9,943.7 L159.0,943.3 L163.1,942.9 L167.2,942.5 L171.3,942.2 L175.5,941.8 L179.6,941.4 L183.7,941.1 L187.8,940.8 L191.9,940.4 L196.0,940.1 L200.1,939.8 L204.2,939.5 L208.3,939.2 L212.4,938.9 L216.5,938.6 L220.7,938.3 L224.8,938.1 L228.9,937.8 L233.0,937.5 L237.1,937.3 L241.2,937.0 L245.3,936.8 L249.4,936.6 L253.5,936.3 L257.6,936.1 L261.7,935.9 L265.9,935.7 L270.0,935.5 L274.1,935.2 L278.2,935.0 L282.3,934.8 L286.4,934.6 L290.5,934.5 L294.6,934.3 L298.7,934.1 L302.8,933.9 L307.0,933.7 L311.1,933.5 L315.2,933.4 L319.3,933.2 L323.4,933.0 L327.5,932.9 L331.6,932.7 L335.7,932.6 L339.8,932.4 L343.9,932.3 L348.0,932.1 L352.2,932.0 L356.3,931.8 L360.4,931.7 L364.5,931.6 L368.6,931.4 L372.7,931.3 L376.8,931.2 L380.9,931.1 L385.0,930.9 L389.1,930.8 L393.2,930.7 L397.4,930.6 L401.5,930.5 L405.6,930.4 L409.7,930.2 L413.8,930.1 L417.9,930.0 L422.0,929.9 L426.1,929.8 L430.2,929.7 L434.3,929.6 L438.5,929.5 L442.6,929.4 L446.7,929.3 L450.8,929.3 L454.9,929.2 L459.0,929.1 L463.1,929.0 L467.2,928.9 L471.3,928.8 L475.4,928.7 L479.5,928.7 L483.7,928.6 L487.8,928.5 L491.9,928.4 L496.0,928.4 L500.1,928.3 L504.2,928.2 L508.3,928.2 L512.4,928.1 L516.5,928.0 L520.6,928.0 L524.7,927.9 L528.9,927.8 L533.0,927.8 L537.1,927.7 L541.2,927.6 L545.3,927.6 L549.4,927.5 L553.5,927.5 L557.6,927.4 L561.7,927.4 L565.8,927.3 L570.0,927.3 L574.1,927.2 L578.2,927.2 L582.3,927.1 L586.4,927.1 L590.5,927.0 L594.6,927.0 L598.7,926.9 L602.8,926.9 L606.9,926.9 L611.0,926.8 L615.2,926.8 L619.3,926.7 L623.4,926.7 L627.5,926.7 L631.6,926.6 L635.7,926.6" fill="none" stroke="#1a1a1a" stroke-width="3.0"/>
<path d="M64.5,955.5 L71.7,954.2 L78.9,953.3 L86.1,952.6 L93.3,952.1 L100.5,951.7 L107.7,951.5 L114.9,951.2 L122.1,951.1 L129.3,951.0 L136.5,951.0 L143.7,951.0 L150.9,950.9 L158.1,950.9 L165.4,950.9 L172.6,950.9 L179.8,950.9 L187.0,950.9 L194.2,950.9 L201.4,950.9 L208.6,950.9 L215.8,950.9 L223.0,950.9 L230.2,950.9 L237.4,950.9 L244.6,950.9 L251.8,950.9 L259.0,950.8 L266.2,950.7 L273.4,950.5 L280.6,950.3 L287.8,950.0 L295.0,949.7 L302.2,949.4 L309.4,949.2 L316.6,949.0 L323.8,948.8 L331.0,948.6 L338.2,948.4 L345.4,948.2 L352.7,948.0 L359.9,947.9 L367.1,947.7 L374.3,947.6 L381.5,947.4 L388.7,947.3 L395.9,947.2 L403.1,947.1 L410.3,947.0 L417.5,946.9 L424.7,946.9 L431.9,946.8 L439.1,946.8 L446.3,946.8 L453.5,946.7 L460.7,946.7 L467.9,946.7 L475.1,946.7 L482.3,946.6 L489.5,946.6 L496.7,946.6 L503.9,946.6 L511.1,946.5 L518.3,946.5 L525.5,946.5 L532.7,946.4 L540.0,946.4 L547.2,946.3 L554.4,946.3 L561.6,946.2 L568.8,946.2 L576.0,946.1 L583.2,946.1 L590.4,946.0 L597.6,946.0 L604.8,945.9 L612.0,945.8 L619.2,945.8 L626.4,945.7 L633.6,945.6 L633.6,956 L635.8,956 L635.8,958.8 L64.5,958.8 Z" fill="#1a1a1a"/>
<path d="M340,950.7 L633.6,950.7" stroke="#fff" stroke-width="0.55" fill="none" opacity="0.85"/>
<path d="M108.0,950.6 h2.4 V954.6 h-2.4 Z M123.2,950.3 h2.4 V954.6 h-2.4 Z M131.2,950.2 h2.4 V954.6 h-2.4 Z M146.4,950.1 h2.4 V954.6 h-2.4 Z M154.4,950.1 h2.4 V954.6 h-2.4 Z M169.6,950.1 h2.4 V954.6 h-2.4 Z M177.6,950.1 h2.4 V954.6 h-2.4 Z M192.8,950.1 h2.4 V954.6 h-2.4 Z M200.8,950.1 h2.4 V954.6 h-2.4 Z M216.0,950.1 h2.4 V954.6 h-2.4 Z M224.0,950.1 h2.4 V954.6 h-2.4 Z M239.2,950.1 h2.4 V954.6 h-2.4 Z M247.2,950.1 h2.4 V954.6 h-2.4 Z M262.4,950.0 h2.4 V954.6 h-2.4 Z M270.4,949.8 h2.4 V954.6 h-2.4 Z M285.6,949.2 h2.4 V954.6 h-2.4 Z M293.6,948.9 h2.4 V954.6 h-2.4 Z M308.8,948.4 h2.4 V954.7 h-2.4 Z M316.8,948.1 h2.4 V954.7 h-2.4 Z M332.0,947.7 h2.4 V954.8 h-2.4 Z M340.0,947.5 h2.4 V954.8 h-2.4 Z M355.2,947.1 h2.4 V954.9 h-2.4 Z M363.2,947.0 h2.4 V955.0 h-2.4 Z M378.4,946.7 h2.4 V955.1 h-2.4 Z M386.4,946.5 h2.4 V955.1 h-2.4 Z M401.6,946.3 h2.4 V955.2 h-2.4 Z M409.6,946.2 h2.4 V955.3 h-2.4 Z M424.8,946.1 h2.4 V955.4 h-2.4 Z M432.8,946.0 h2.4 V955.4 h-2.4 Z M448.0,945.9 h2.4 V955.5 h-2.4 Z M456.0,945.9 h2.4 V955.5 h-2.4 Z M471.2,945.9 h2.4 V955.6 h-2.4 Z M479.2,945.9 h2.4 V955.7 h-2.4 Z M494.4,945.8 h2.4 V955.8 h-2.4 Z M502.4,945.8 h2.4 V955.8 h-2.4 Z M517.6,945.7 h2.4 V955.8 h-2.4 Z M525.6,945.7 h2.4 V955.8 h-2.4 Z M540.8,945.6 h2.4 V955.8 h-2.4 Z M548.8,945.5 h2.4 V955.8 h-2.4 Z M564.0,945.4 h2.4 V955.8 h-2.4 Z M572.0,945.4 h2.4 V955.8 h-2.4 Z M587.2,945.2 h2.4 V955.8 h-2.4 Z M595.2,945.2 h2.4 V955.8 h-2.4 Z M610.4,945.0 h2.4 V955.8 h-2.4 Z M618.4,945.0 h2.4 V955.8 h-2.4 Z " fill="#fff"/>
<rect x="130.2" y="600.9" width="149.2" height="69" fill="#fff" stroke="#2a2a2a" stroke-width="1.1"/>
<path d="M140,621.2 H198.2" stroke="#1a1a1a" stroke-width="1.9" fill="none"/>
<path d="M140,650 H198.2" stroke="#1a1a1a" stroke-width="1.9" fill="none" stroke-dasharray="6 7"/>
<path d="M647.4,833.2 V738" fill="none" stroke="#1a1a1a" stroke-width="2.4"/>
<path d="M647.4,724 L639.6,743.8 L647.4,738.2 L655.2,743.8 Z" fill="#1a1a1a"/>
<g font-family="Liberation Sans, sans-serif" fill="#1f1f1f" stroke="#1f1f1f" stroke-width="0.3" stroke-linejoin="round">
<g font-weight="bold" font-size="23.8" stroke="#1f1f1f" stroke-width="0.45" stroke-linejoin="round">
<text x="63.2" y="20.6">(a)</text>
<text x="64.2" y="267.8">(b)</text>
<text x="71.4" y="570.8">(c)</text>
</g>
<g font-size="21.5" text-anchor="middle">
<text x="52.2" y="236.2">0</text>
<text x="52.2" y="480">0</text>
<text x="132.6" y="236.2">0.1</text>
<text x="132.6" y="480">0.1</text>
<text x="212.6" y="236.2">0.2</text>
<text x="212.6" y="480">0.2</text>
<text x="292.5" y="236.2">0.3</text>
<text x="292.5" y="480">0.3</text>
<text x="372.5" y="236.2">0.4</text>
<text x="372.5" y="480">0.4</text>
<text x="452.4" y="236.2">0.5</text>
<text x="452.4" y="480">0.5</text>
<text x="532.3" y="236.2">0.6</text>
<text x="532.3" y="480">0.6</text>
<text x="612.3" y="236.2">0.7</text>
<text x="612.3" y="480">0.7</text>
<text x="692.2" y="236.2">0.8</text>
<text x="692.2" y="480">0.8</text>
<text x="64.0" y="1043.4">0</text>
<text x="349.8" y="1043.4">0.5</text>
<text x="634.2" y="1043.4">1</text>
</g>
<g font-size="21.5" text-anchor="end">
<text x="55.9" y="964.8">1</text>
<text x="55.2" y="849.5">2</text>
<text x="55.2" y="734.1">3</text>
<text x="55.2" y="618.8">4</text>
</g>
<g>
<text x="240.3" y="511" font-size="24" word-spacing="2">Normalized abundance <tspan font-style="italic">n</tspan></text>
<text transform="translate(28.3,325.6) rotate(-90)" font-size="24.08">Probability density</text>
<text transform="translate(21.4,925.8) rotate(-90)" font-size="23.2">Magnification brought by</text>
</g>
<g font-size="18.9">
<text x="202.3" y="626.2">Variance</text>
<text x="203.4" y="655.2">Mean</text>
</g>
<text x="682.5" y="1042.4" font-size="27">T</text>
<text x="699" y="1055.3" font-size="20">f</text>
<path d="M653.4,1028.6 L667.4,1042.2 M667.4,1028.6 L653.4,1042.2" stroke="#1f1f1f" stroke-width="1.5" fill="none"/>
<text x="411.9" y="140.2" font-size="22.6">h</text>
<text x="385.2" y="1078.3" font-size="17.5">h</text>
<text transform="translate(31.9,649) rotate(-90)" font-size="17.8">h</text>
</g>
<g font-family="Liberation Serif, serif" fill="#1f1f1f">
<path d="M397.0,116.8 C398.0,114.2 399.4,113.1 402.0,112.95 L410.9,112.35" fill="none" stroke="#1f1f1f" stroke-width="1.5" stroke-linecap="round"/>
<path d="M405.0,113.0 L401.4,124.4" fill="none" stroke="#1f1f1f" stroke-width="2.0" stroke-linecap="round"/>
<text x="375.3" y="1067.5" font-size="23">τ</text>
<text transform="translate(21.7,658.8) rotate(-90)" font-size="23">τ</text>
<text x="661.5" y="785.8" font-size="25">η</text>
<text x="676.3" y="785.8" font-size="22">'</text>
</g>
<g fill="none" stroke="#1f1f1f" stroke-width="1.1" stroke-linecap="round" stroke-linejoin="round">
<path d="M431.9,131 V106.6 M427.2,111.7 Q430.7,109.9 431.9,106.4 Q433.1,109.9 436.6,111.7"/>
<path d="M689.6,765.6 V788.4 M684.4,782.2 Q688.4,784.6 689.6,788.4 Q690.8,784.6 694.8,782.2"/>
</g>
</svg>
</body></html>
